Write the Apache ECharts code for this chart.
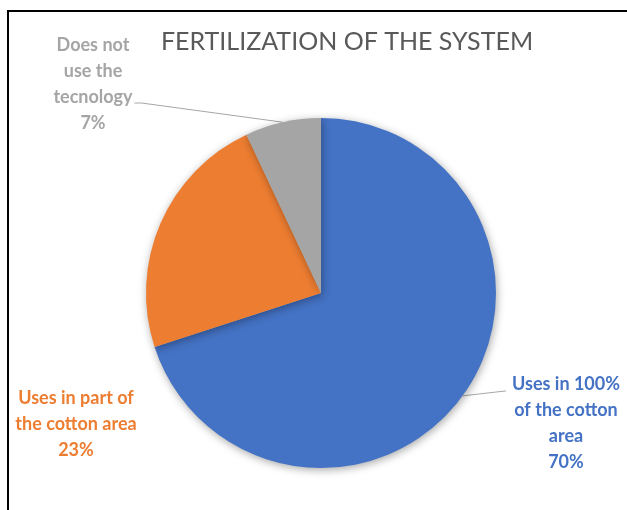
<!DOCTYPE html>
<html>
<head>
<meta charset="utf-8">
<script src="https://cdn.jsdelivr.net/npm/echarts@6/dist/echarts.min.js"></script>
<style>
    html, body { margin: 0; padding: 0; background: #fff; }
    #chart { position: absolute; left: 0; top: 0; width: 627px; height: 510px; }
    #frame { position: absolute; left: 7px; top: 10px; width: 640px; height: 520px;
        border-top: 2px solid #000; border-left: 2px solid #000; pointer-events: none; }
</style>
</head>
<body>
<div id="chart"></div>
<div id="frame"></div>
<script>
var titulo = 'FERTILIZATION OF THE SYSTEM';
var categorias = ['Uses in 100%\nof the cotton\narea', 'Uses in part of\nthe cotton area', 'Does not\nuse the\ntecnology'];
var valores = [70, 23, 7];
var colores = ['#4472C4', '#ED7D31', '#A5A5A5'];
// centro de cada bloque de texto
var posEtiquetas = [[566, 423], [76, 424], [93, 84]];

var datos = [];
for (var i = 0; i < valores.length; i++) {
    datos.push({
        name: categorias[i],
        value: valores[i],
        itemStyle: {color: colores[i]},
        label: {color: colores[i]},
        labelLine: {show: i != 1}
    });
}

var myChart = echarts.init(document.getElementById('chart'));
myChart.setOption({
    animation: false,
    title: {
        text: titulo,
        left: 342,
        top: 24,
        textAlign: 'center',
        textStyle: {
            fontFamily: 'Lato',
            fontSize: 25,
            fontWeight: 'normal',
            color: '#595959'
        }
    },
    series: [{
        type: 'pie',
        center: [321, 293],
        radius: 175,
        startAngle: 90,
        clockwise: true,
        data: datos,
        itemStyle: {
            shadowBlur: 8,
            shadowColor: 'rgba(0,0,0,0.35)',
            shadowOffsetX: 1,
            shadowOffsetY: 2
        },
        label: {
            position: 'outside',
            formatter: '{b}\n{c}%',
            fontFamily: 'Lato',
            fontWeight: 'bold',
            fontSize: 18,
            lineHeight: 26,
            align: 'center'
        },
        labelLine: {
            show: true,
            length: 10,
            length2: 10,
            lineStyle: {color: '#A6A6A6', width: 1}
        },
        labelLayout: function (params) {
            var idx = params.dataIndex;
            var p = posEtiquetas[idx];
            var w = params.labelRect.width;
            var res = {x: p[0], y: p[1], align: 'center', verticalAlign: 'middle'};
            var pts = params.labelLinePoints;
            if (pts && idx == 2) {
                var fin = [p[0] + w / 2 + 2, p[1] + 19];
                res.labelLinePoints = [pts[0], [fin[0] + 7, fin[1]], fin];
            } else if (pts && idx == 0) {
                var fin2 = [p[0] - w / 2 - 6, p[1] - 32];
                res.labelLinePoints = [pts[0], [fin2[0] - 1, fin2[1]], fin2];
            }
            return res;
        }
    }]
});
</script>
</body>
</html>
